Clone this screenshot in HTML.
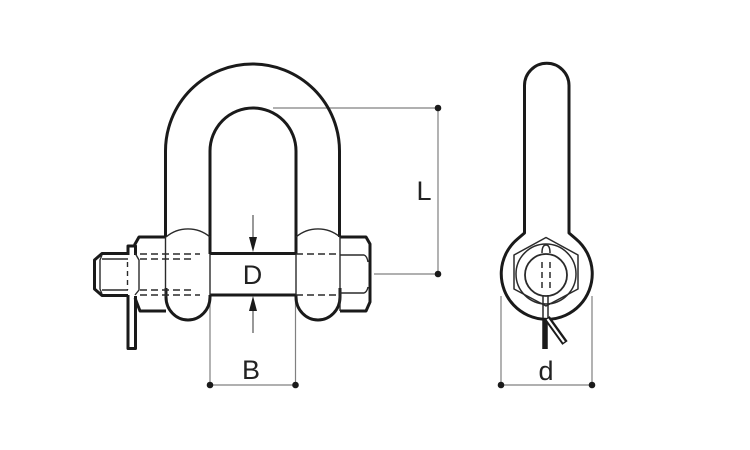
<!DOCTYPE html>
<html><head><meta charset="utf-8"><style>html,body{margin:0;padding:0;background:#fff}svg{display:block}text{font-family:"Liberation Sans",sans-serif;fill:#222;font-size:27px;text-anchor:middle;font-weight:normal}</style></head><body>
<svg width="750" height="450" viewBox="0 0 750 450" fill="none" stroke-linejoin="round">
<!-- dimension lines -->
<g stroke="#808080" stroke-width="1.2">
<path d="M273 108H438V274H374"/>
<path d="M210 296V385H295.500V296"/>
<path d="M501 296V385H592V296"/>
<path d="M253 215V240M253 310V333" stroke="#555"/>
</g>
<g fill="#1a1a1a">
<circle cx="438" cy="108" r="3.300"/><circle cx="438" cy="274" r="3.300"/>
<circle cx="210" cy="385" r="3.300"/><circle cx="295.500" cy="385" r="3.300"/>
<circle cx="501" cy="385" r="3.300"/><circle cx="592" cy="385" r="3.300"/>
<path d="M249 237H257L253 252ZM249 311H257L253 296Z"/>
</g>
<text x="424" y="200">L</text>
<text x="252.500" y="284">D</text>
<text x="251" y="379">B</text>
<text x="546" y="380">d</text>
<!-- front: thick -->
<g stroke="#1a1a1a" stroke-width="3">
<path d="M165.500 237V151A87 87 0 0 1 339.500 151V237"/>
<path d="M210 254V151A43 43 0 0 1 296 151V254"/>
<path d="M210 253.500H296M210 295H296"/>
<path d="M166 288V297A22 23 0 0 0 210 297V295"/>
<path d="M296 295V297A22 23 0 0 0 340 297V288"/>
<path d="M165 237H139L134.500 245M135 298L140 311H166"/>
<path d="M340 237H366L370 244V302L366 311H340"/>
<path d="M128 253.500H102L94.500 260V289L102 295.500H128"/>
<path d="M128 255V246H135.500V255M128 295V348.500H135.500V296"/>
</g>
<!-- front: thin -->
<g stroke="#2a2a2a" stroke-width="1.400">
<path d="M166 237A34 34 0 0 1 210 237"/>
<path d="M296 237A34 34 0 0 1 340 237"/>
<path d="M165.500 237V297M210 254V295M296 254V295M340 237V311"/>
<path d="M135 253L139 260V290L135 295"/>
<path d="M102 259H128M102 290H128M102 255L100 260V289L102 294"/>
<path d="M340 255H364Q367 256 368 262M340 293H364Q367 292 368 287"/>
<path d="M127.500 262V290" stroke-dasharray="5 4"/>
<path d="M140 254H200M140 259H193M140 290H193M140 295H200" stroke-dasharray="7 4"/>
<path d="M296 254H340M296 295H340" stroke-dasharray="7 4"/>
</g>
<!-- side view -->
<path d="M524.500 233V85.500A22.200 22.200 0 0 1 569 85.500V233L576 239A45.500 45.500 0 1 1 517.500 239Z" stroke="#1a1a1a" stroke-width="3"/>
<g stroke="#2a2a2a" stroke-width="1.500">
<path d="M546 237.500L578 255V289L546 306L514 289V255Z"/>
<circle cx="546" cy="274" r="30"/>
<circle cx="546" cy="275" r="21" stroke-width="1.800"/>
<path d="M542 253Q542 245 546 245Q550 245 550 253"/>
<path d="M542 262V290M550 262V290" stroke-dasharray="6 4"/>
<path d="M543 295V318M548 295V318"/>
</g>
<g stroke="#1a1a1a">
<path d="M545 318V349" stroke-width="5.500"/>
<path d="M547 318L565 343" stroke-width="6.500"/>
</g>
<path d="M547.500 319L564 342" stroke="#fff" stroke-width="2.200"/>
</svg>
</body></html>
